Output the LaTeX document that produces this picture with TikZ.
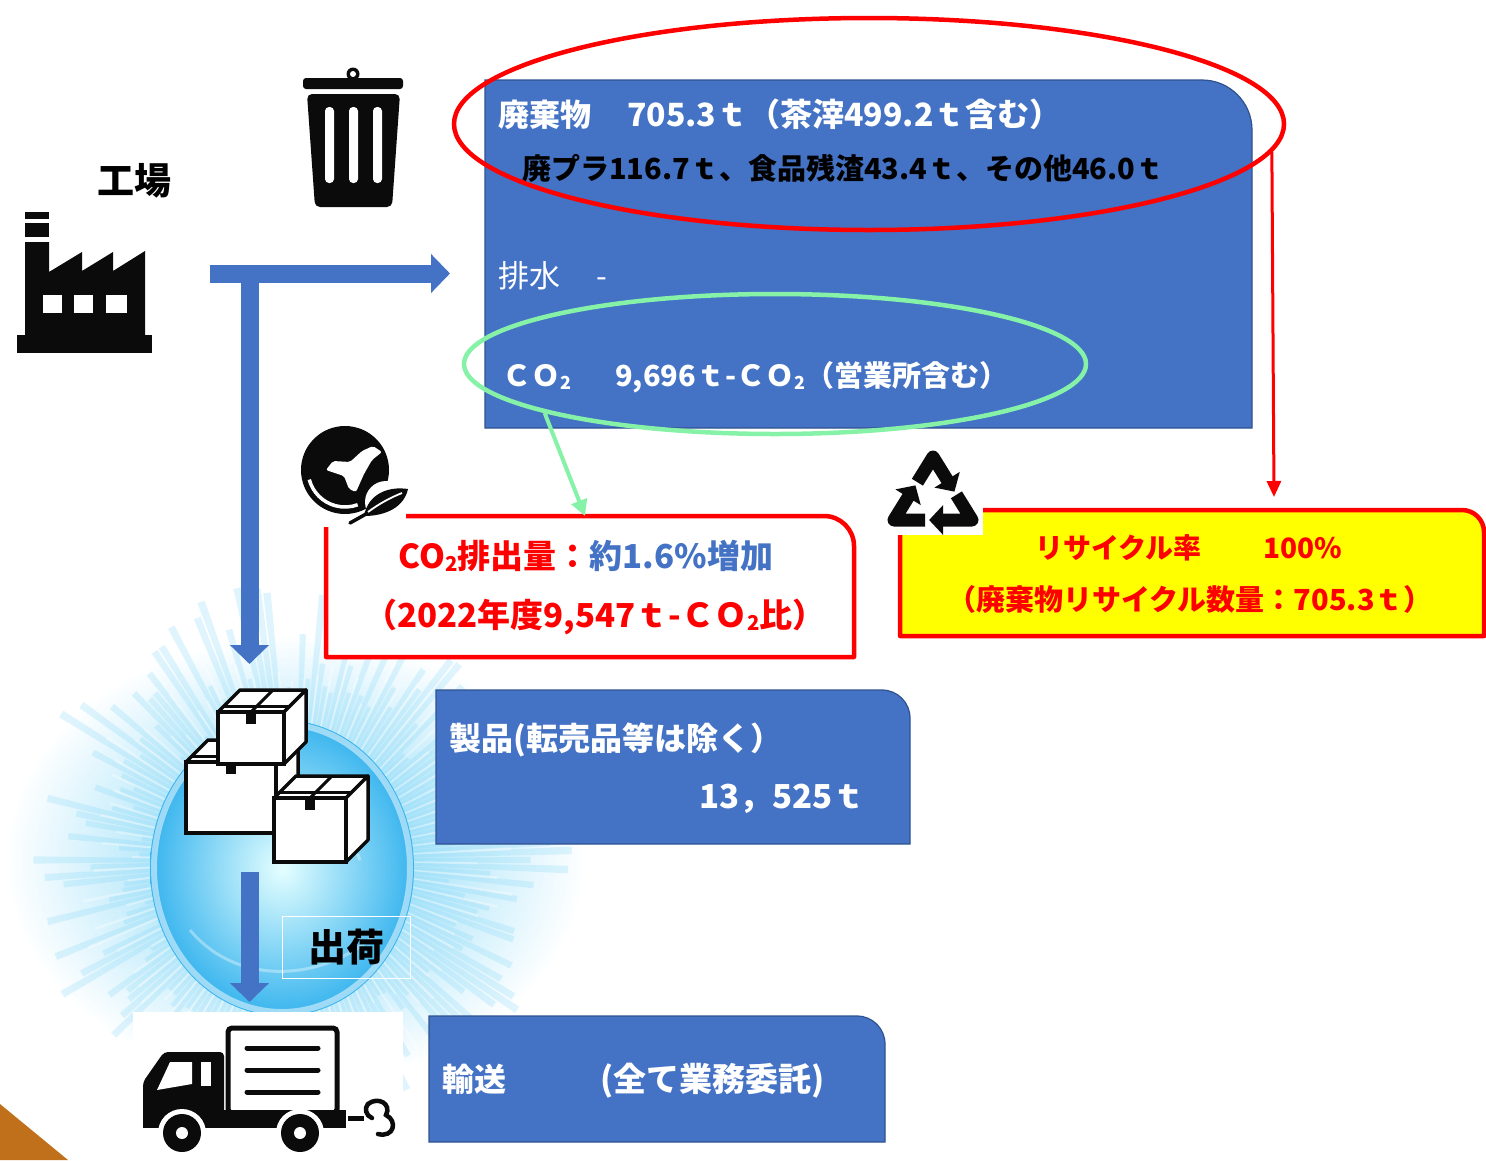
\documentclass[tikz,border=0pt]{standalone}
\usepackage{fontspec}
\setmainfont{Noto Sans CJK JP}
\usepackage{graphicx}
\usetikzlibrary{shapes.geometric,arrows.meta,calc}

\definecolor{boxblue}{HTML}{4472C4}
\definecolor{boxedge}{HTML}{2F528F}
\definecolor{ringred}{HTML}{FF0000}
\definecolor{ringgreen}{HTML}{86F2A8}
\definecolor{noteyellow}{HTML}{FFFF00}
\definecolor{glowcyan}{HTML}{5CCBF5}
\definecolor{glowdeep}{HTML}{38B4EE}
\definecolor{cornerbrown}{HTML}{C0701A}
\definecolor{ink}{HTML}{0B0B0B}

\newcommand\subtwo{\raisebox{-0.12em}{\scalebox{0.62}{2}}}
% frame with a rounded top-right corner, drawn on an (empty) node
\newcommand\tabframe[3]{%
  \path[#3] (#1.south west) -- (#1.north west) -- ([xshift=-#2pt]#1.north east)
    .. controls ([xshift=-0.448*#2pt]#1.north east) and ([yshift=-0.448*#2pt]#1.north east)
    .. ([yshift=-#2pt]#1.north east) -- (#1.south east) -- cycle;}
% a cardboard carton: front top-left corner, width, height, depth
\newcommand\carton[5]{%
  \filldraw[fill=white,draw=ink,line width=3.5,line join=round]
    (#1,#2) -- ++(#5,-#5) -- ++(#3,0) -- ++(-#5,#5) -- cycle;
  \filldraw[fill=white,draw=ink,line width=3.5,line join=round]
    (#1+#3,#2) -- ++(#5,-#5) -- ++(0,#4) -- ++(-#5,#5) -- cycle;
  \filldraw[fill=white,draw=ink,line width=3.5] (#1,#2) rectangle ++(#3,#4);
  \fill[ink] (#1+0.5*#3-5,#2) rectangle ++(10,12);
  \draw[ink,line width=3] (#1+0.5*#3,#2) -- ++(#5,-#5);
  \draw[ink,line width=3] (#1+0.25*#5,#2-0.25*#5) -- ++(#3,0);
}

\tikzset{
  holder/.style={draw=none,inner sep=0,outer sep=0,anchor=north west},
  bluebox/.style={fill=boxblue,draw=boxedge,line width=1.2},
  notebox/.style={draw=ringred,line width=4.5,line join=round},
  txt/.style={inner sep=0,anchor=base west,font=\bfseries\fontsize{#1}{#1}\selectfont},
  txt/.default=32,
  flowarrow/.style={boxblue,line width=18,-{Triangle[width=38pt,length=19pt]}},
  recyc/.style={ink,line width=13,line join=round,-{Triangle[width=29pt,length=14pt]}},
}

\begin{document}
\begin{tikzpicture}[x=1pt,y=-1pt]
\useasboundingbox (0,0) rectangle (1486,1160);
\fill[white] (0,0) rectangle (1486,1160);

% ---------- light burst behind the products ----------
\shade[inner color=glowcyan!85, outer color=white] (295,860) ellipse [x radius=290pt, y radius=225pt];
\pgfmathsetseed{11}
\foreach \a in {0,2,...,358}{
  \pgfmathsetmacro\len{150+130*rnd}
  \fill[glowcyan!80!white, opacity=0.24] (295,860) -- +(\a-0.8:\len) -- +(\a+0.8:\len) -- cycle;
}
\foreach \a in {1,5,...,357}{
  \pgfmathsetmacro\len{160+70*rnd}
  \fill[white, opacity=0.35] (295,860) -- +(\a-0.4:\len) -- +(\a+0.4:\len) -- cycle;
}
\shade[inner color=cyan!10, outer color=glowdeep] (282,868) ellipse [x radius=132pt, y radius=148pt];
\draw[white, opacity=0.5, line width=6] (282,868) ellipse [x radius=128pt, y radius=144pt];
\draw[white, opacity=0.35, line width=3] (200,800) .. controls (260,760) and (330,790) .. (360,860);
\draw[white, opacity=0.35, line width=3] (190,930) .. controls (240,990) and (330,980) .. (380,930);

% ---------- factory ----------
\node[txt=37, anchor=base] (factoryLabel) at (134,194) {工場};
\fill[ink] (17,335) rectangle (152,353);
\fill[ink] (25,242) -- (25,336) -- (145,336) -- (145,251) -- (113,271) -- (113,252)
  -- (82,271) -- (82,252) -- (49,272) -- (49,242) -- cycle;
\fill[ink] (25,212) rectangle (49,219);
\fill[ink] (25,223) rectangle (49,237);
\fill[white] (43,295) rectangle (62,313);
\fill[white] (74,295) rectangle (93,313);
\fill[white] (106,295) rectangle (127,313);
\coordinate (factoryOut) at (210,273.5);

% ---------- waste bin ----------
\fill[ink] (353,74) circle[radius=6.5pt];
\fill[white] (353,74) circle[radius=3pt];
\fill[ink, rounded corners=3] (303,78) rectangle (403,89);
\fill[ink, rounded corners=5] (307,94) -- (400,94) -- (392,207) -- (315,207) -- cycle;
\fill[white, rounded corners=4] (325,107) rectangle (334,183);
\fill[white, rounded corners=4] (349,107) rectangle (358,183);
\fill[white, rounded corners=4] (373,107) rectangle (382,183);

% ---------- main emissions panel ----------
\node[holder, minimum width=767, minimum height=348] (wasteBox) at (485,80) {};
\tabframe{wasteBox}{50}{bluebox}
\node[txt=31, text=white] (wasteHead) at (498,126) {廃棄物};
\node[txt, text=white] (wasteTotal) at (627,126) {705.3ｔ（茶滓499.2ｔ含む）};
\node[txt=29, text=black] (wasteSplit) at (522,179) {廃プラ116.7ｔ、食品残渣43.4ｔ、その他46.0ｔ};
\node[inner sep=0, anchor=base west, text=white, font=\fontsize{31}{31}\selectfont] (drainHead) at (498,287) {排水};
\node[inner sep=0, anchor=base west, text=white, font=\fontsize{31}{31}\selectfont] (drainVal) at (596,287) {-};
\node[txt=29, text=white] (co2Head) at (502,386) {ＣＯ\subtwo};
\node[txt=29, text=white] (co2Val) at (615,386) {9,696ｔ-ＣＯ\subtwo（営業所含む）};

\node[ellipse, draw=ringred, line width=4.5, minimum width=830, minimum height=212, inner sep=0] (wasteRing) at (869,124) {};
\node[ellipse, draw=ringgreen, line width=4.5, minimum width=622, minimum height=140, inner sep=0] (co2Ring) at (775,364) {};

% ---------- flow arrows ----------
\coordinate (wasteIn) at (450,273.5);
\coordinate (branch) at (249.5,283);
\coordinate (productIn) at (249.5,664);
\draw[flowarrow] (factoryOut) -- (wasteIn);
\draw[flowarrow] (branch) -- (productIn);

% ---------- CO2 result note ----------
\node[holder, minimum width=528, minimum height=141] (co2Box) at (326,516) {};
\tabframe{co2Box}{30}{notebox, fill=white}
\fill[white] (290,424) rectangle (406,527);
\node[txt=33, anchor=base] (co2Rise) at (586,568) {\textcolor{ringred}{CO\subtwo 排出量：}\textcolor{boxblue}{約1.6\%増加}};
\node[txt=33, anchor=base, text=ringred] (co2Base) at (595,627) {（2022年度9,547ｔ-ＣＯ\subtwo 比）};

% globe with leaf
\fill[ink] (345,470) circle[radius=44pt];
\fill[white, rounded corners=2] (373,446) -- (382,452) -- (372,460) -- (364,474) -- (356,492)
  -- (349,489) -- (344,476) -- (326,470) -- (333,461) -- (350,462) -- (362,451) -- cycle;
\draw[white, line width=3.5] ([shift={(345,470)}]195:37pt) arc[start angle=195, end angle=290, radius=37pt];
\fill[white] (386,502) circle[radius=21pt];
\fill[ink] (364,516) .. controls (368,494) and (388,486) .. (408,489)
  .. controls (404,507) and (386,516) .. (364,516) -- cycle;
\draw[ink, line width=3.5, line cap=round] (350,523) -- (366,514);
\draw[white, line width=1.8] (368,512) .. controls (380,503) and (392,497) .. (402,493);

\draw[ringgreen, line width=4, -{Triangle[width=16pt,length=16pt]}] (co2Ring.192.5) -- ([xshift=-5pt]co2Box.north);

% ---------- recycling note ----------
\node[holder, minimum width=584, minimum height=126] (recycleBox) at (900,510) {};
\tabframe{recycleBox}{22}{notebox, fill=noteyellow}
\fill[white] (878,442) rectangle (983,535);
\node[txt=28, text=ringred] (recycleRate) at (1035,558) {リサイクル率};
\node[txt=28, text=ringred] (recycleVal) at (1263,558) {100\%};
\node[txt=29, text=ringred, anchor=base] (recycleQty) at (1190,610) {（廃棄物リサイクル数量：705.3ｔ）};

\coordinate (rT) at (933,457);
\coordinate (rL) at (894,520);
\coordinate (rR) at (972,520);
\draw[recyc] ($(rT)!0.4!(rL)$) -- (rT) -- ($(rT)!0.55!(rR)$);
\draw[recyc] ($(rR)!0.4!(rT)$) -- (rR) -- ($(rR)!0.55!(rL)$);
\draw[recyc] ($(rL)!0.4!(rR)$) -- (rL) -- ($(rL)!0.55!(rT)$);

\coordinate (recycleIn) at (1274,497);
\draw[ringred, line width=3, -{Triangle[width=14pt,length=16pt]}] (wasteRing.-4.3) -- (recycleIn);

% ---------- products ----------
\carton{186}{762}{90}{71}{22}
\carton{218}{712}{66}{52}{22}
\carton{274}{798}{72}{64}{22}

\node[holder, minimum width=474, minimum height=154] (productBox) at (436,690) {};
\tabframe{productBox}{28}{bluebox}
\node[txt, text=white] (productHead) at (449,750) {製品(転売品等は除く）};
\node[txt=33, text=white, anchor=base east] (productQty) at (866,808) {13，525ｔ};

\coordinate (shipOut) at (249.5,872);
\coordinate (truckIn) at (249.5,1002);
\draw[flowarrow] (shipOut) -- (truckIn);
\node[draw=white, line width=1, minimum width=128, minimum height=62, inner sep=0] (shipFrame) at (346,947) {};
\node[txt=38, anchor=base] (shipLabel) at (346,961) {出荷};

% ---------- truck ----------
\fill[white] (133,1012) rectangle (403,1160);
\filldraw[fill=white, draw=ink, line width=5, rounded corners=4] (228,1028) rectangle (337,1113);
\foreach \yy in {1048,1070,1092}{\draw[ink, line width=5, line cap=round] (247,\yy) -- (318,\yy);}
\fill[ink, rounded corners=4] (143,1124) -- (143,1082) -- (164,1052) -- (224,1052) -- (224,1124) -- cycle;
\fill[white] (157,1090) -- (170,1062) -- (192,1062) -- (192,1084) -- cycle;
\fill[white] (201,1062) rectangle (211,1086);
\fill[ink] (143,1110) rectangle (346,1128);
\foreach \wx in {182,300}{
  \fill[white] (\wx,1133) circle[radius=24pt];
  \fill[ink] (\wx,1133) circle[radius=19pt];
  \fill[white] (\wx,1133) circle[radius=6pt];
}
\draw[ink, line width=5] (348,1118) -- (364,1118);
\draw[ink, line width=4.5, line cap=round] (368,1104) .. controls (378,1096) and (392,1104) .. (386,1115)
  .. controls (398,1121) and (394,1138) .. (378,1134);
\draw[ink, line width=4.5, line cap=round] (368,1104) .. controls (364,1108) and (366,1116) .. (372,1118);

% ---------- transport ----------
\node[holder, minimum width=456, minimum height=126] (transportBox) at (429,1016) {};
\tabframe{transportBox}{28}{bluebox}
\node[txt, text=white] (transportHead) at (442,1091) {輸送};
\node[txt=33, text=white] (transportNote) at (600,1091) {(全て業務委託)};

% ---------- corner accent ----------
\fill[cornerbrown] (0,1104) -- (68,1160) -- (0,1160) -- cycle;
\end{tikzpicture}
\end{document}
